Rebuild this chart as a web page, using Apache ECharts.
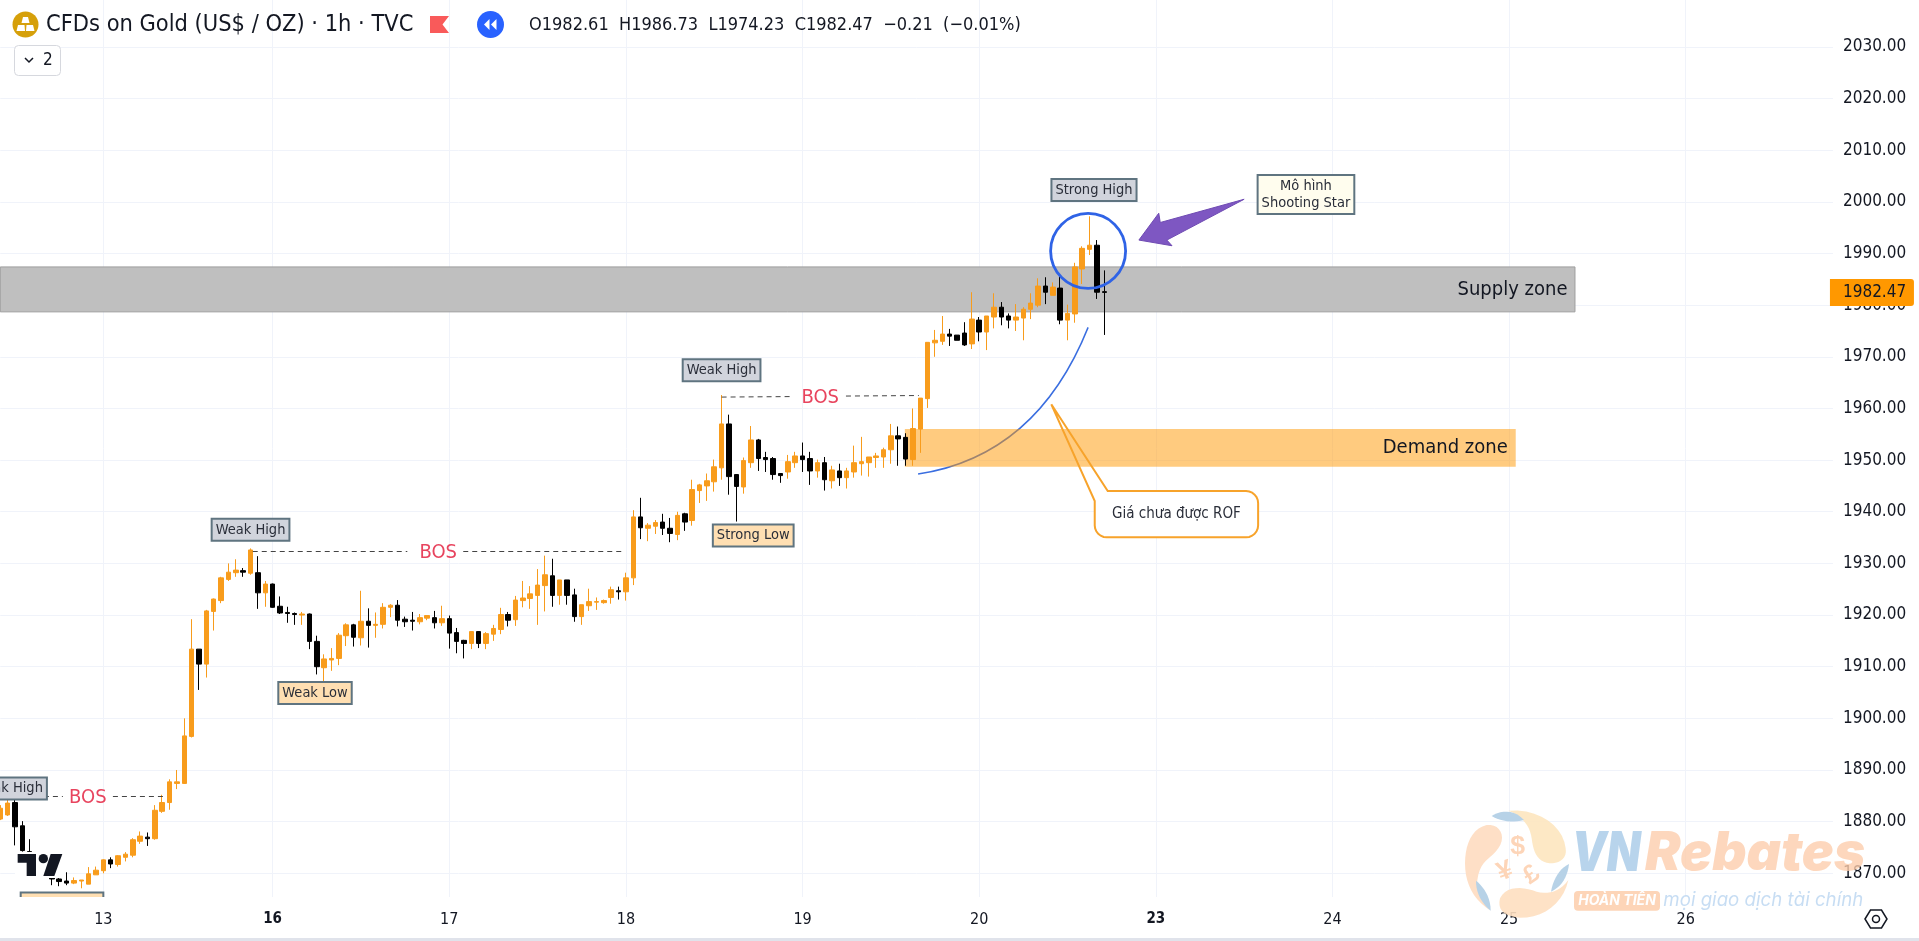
<!DOCTYPE html>
<html><head><meta charset="utf-8">
<style>html,body{margin:0;padding:0;background:#fff;overflow:hidden}#c{width:1919px;height:941px}</style>
<script src="https://cdn.jsdelivr.net/npm/echarts@6/dist/echarts.min.js"></script>
</head><body><div id="c"></div>
<script>
const FONT = '"DejaVu Sans Condensed","DejaVu Sans",sans-serif';
const opens = [1880.5,1881.3,1883.7,1879.2,1874.2,1871.5,1870.5,1869.2,1868.9,1868.5,1868.1,1868.5,1867.9,1869.7,1870.5,1872.6,1871.7,1873.1,1873.5,1876.2,1877,1876.7,1882,1883.7,1887.4,1887.4,1896.5,1913.4,1910.5,1920.7,1922.8,1926.9,1928.2,1928.6,1928.1,1928.2,1924.3,1926,1921.7,1920.5,1920.3,1920,1920.2,1914.9,1909.8,1911.3,1911.6,1916,1918.1,1915.6,1918.8,1918,1918.2,1921.5,1921.9,
1919.2,1919,1918.7,1919.4,1919.5,1918.5,1919.3,1916.6,1915.1,1914.5,1916.8,1914.5,1916.3,1917.2,1920.1,1919.1,1922.8,1923.2,1923.8,1925.7,1927.6,1923.8,1926.8,1923.9,1919.7,1921.8,1922.5,1922.4,1923.4,1924.7,1924.5,1927.2,1939,1936.8,1937.2,1938,1936.8,1935.6,1939.6,1938.3,1944.1,1945,1945.8,1948.5,1957,1947.2,
1944.8,1949.5,1953.9,1950.5,1950.3,1947.4,1947.7,1949.5,1950.8,1950.3,1947.9,1949.5,1946,1947.9,1946.6,1947.7,1949.3,1949.5,1950.5,1950.6,1952,1954.7,1954.4,1950.1,1956,1961.9,1972.7,1973,1974.4,1974.2,1974.6,1972.5,1977.1,1974.8,1977.7,1979.6,1977.9,1977.1,1977.5,1979.2,1980,1983.7,1981.9,1983.3,1977.1,1978.3,1987,1990.8,1991.6,1982.61];
const closes = [1882.6,1883.6,1879,1874.4,1871.5,1870.5,1869.5,1868.9,1868.4,1868.1,1868.6,1868.7,1869.9,1870.6,1872.6,1871.8,1873.4,1873.7,1876.5,1877.2,1876.7,1882.2,1883.7,1887.7,1887.7,1896.6,1913.4,1910.5,1920.8,1923.1,1927.2,1928.3,1928.7,1928.3,1932.6,1924.3,1926,1921.5,1920.4,1920.3,1920.1,1920.2,1914.9,1910,1911.5,1911.6,1916.1,1918.1,1915.7,1918.8,1918,1918.2,1921.5,1921.9,1919,
1918.7,1918.8,1919.5,1919.9,1918.5,1919.3,1916.5,1914.9,1914.5,1916.8,1914.5,1916.4,1917.4,1920.1,1919,1922.9,1923.3,1924.1,1925.8,1927.8,1923.8,1926.8,1923.8,1919.7,1922,1922.6,1922.6,1922.8,1924.9,1924.5,1927.2,1939,1936.9,1937.4,1937.9,1936.8,1935.8,1939.3,1938,1944.3,1945.2,1946,1948.7,1957,1946.8,1944.9,
1949.9,1953.9,1950.3,1950.1,1947.2,1947,1949.7,1950.8,1950.1,1947.9,1949.5,1946.2,1948.1,1946.6,1947.9,1949.5,1949.7,1950.6,1950.8,1952,1954.7,1954.1,1950.2,1956.1,1962,1972.8,1973.2,1974.4,1974,1973.2,1972.3,1977.3,1974.8,1977.9,1979.6,1977.7,1977.1,1977.7,1979.2,1980.4,1983.7,1982.5,1983.5,1977.1,1978.4,1987.4,1991,1991.6,1982.5,1982.47];
const lows = [1880.3,1881.1,1875.4,1874.2,1870.8,1869.5,1869.5,1867.7,1867.5,1867.7,1867.9,1867.1,1867.9,1869.7,1870,1871,1871.3,1872.3,1873.1,1875.7,1875.3,1876.5,1881.7,1882.3,1886.3,1887.3,1896.3,1905.5,1907.9,1917,1922.3,1926.6,1927.4,1927.4,1927.8,1921.2,1921.6,1921.4,1920.2,1918.5,1918.1,1918.1,1913.4,1908.5,1907.1,1909.2,1910.3,1914,1913.9,1914.1,1913.7,1915.6,1917.4,1919.6,1917.8,
1917.7,1917,1918.2,1919,1917.4,1917.9,1913.5,1912.6,1911.6,1913.4,1913.6,1913.4,1915,1916.3,1917.8,1917.9,1921.5,1921.2,1918.1,1920.7,1921.6,1922,1922,1918.7,1918.1,1920.8,1921,1922.2,1922.2,1923,1922.8,1925.8,1934.7,1934.3,1935.7,1935.5,1934.1,1934.5,1936.3,1937.3,1941.7,1942.1,1943.9,1946.2,1943.3,1938.1,
1943.5,1948.5,1947.9,1947.7,1946.2,1945.6,1946.4,1948.5,1947.7,1945.2,1946.6,1944.1,1944.5,1945,1944.5,1946.6,1947,1946.8,1948.5,1948.5,1949.3,1948.9,1948.9,1948.9,1951.4,1960.1,1970,1972.3,1972.1,1973.2,1972.1,1971.5,1973,1971.3,1975.5,1976.1,1975.5,1975,1973.2,1977.3,1979.6,1980.2,1981.9,1976.3,1973.2,1976.6,1984.1,1989.7,1981.2,1974.23];
const highs = [1883.2,1884.5,1885.2,1880.1,1876.6,1872,1871,1869.6,1870.6,1870.2,1869.2,1868.7,1871.2,1871.3,1872.7,1873.1,1873.5,1874.1,1876.8,1878.1,1877.9,1883.2,1885.2,1888.2,1890,1900,1919.2,1913.4,1921,1923.2,1927.4,1930,1930.8,1929.1,1932.9,1931.4,1926.6,1926.1,1923.6,1921.6,1920.5,1920.6,1920.3,1916,1912.4,1913.6,1916.5,1918.4,1918.3,1924.7,1921.3,1920.5,1922.3,1922.1,1922.9,
1919.7,1920.6,1920.2,1919.9,1920.8,1921.8,1919.9,1917.5,1915.2,1916.8,1916.9,1916.7,1918.1,1921.4,1920.6,1923.7,1926.6,1925.6,1928.9,1931.5,1930.9,1926.8,1926.8,1925.1,1922,1925.1,1923.4,1923,1925.5,1925.5,1928.2,1940.3,1942.7,1937.8,1938.4,1939.6,1938.8,1940,1939.8,1946.2,1945.4,1947.4,1950.1,1962.6,1958.8,1947.3,
1950.5,1956.6,1954.1,1951.6,1950.6,1947.4,1951,1951.6,1953.4,1951.6,1950.1,1950.6,1948.9,1949.3,1948.5,1952.8,1954.5,1950.6,1951.4,1952.4,1957,1956.5,1955.2,1960,1962,1972.8,1975.2,1977.9,1975.4,1974.2,1976.7,1982.5,1977.7,1977.9,1982.3,1980.6,1978.4,1980.2,1979.6,1982.3,1985.2,1985.4,1984.4,1986,1980.1,1988.2,1991.4,1997.2,1992.6,1986.73];
const dayTickIndex = [14,37,61,85,109,133,157,181,205,229];
const dayTickLabel = ['13','16','17','18','19','20','23','24','25','26'];
const boldDays = ['16','23'];
const priceTicks = [1870,1880,1890,1900,1910,1920,1930,1940,1950,1960,1970,1980,1990,2000,2010,2020,2030];
const slotCount = 250;
const lastPrice = 1982.47;
const bosText = [[11.9,1884.6],[59.5,1932],[111.4,1962.1]];
const bosSegments = [
  [[4.7,1885],[8.5,1885]],[[15.3,1885],[22.1,1885]],
  [[34.3,1932.4],[55.3,1932.4]],[[62.9,1932.4],[84.9,1932.4]],
  [[98,1962.2],[107.7,1962.3]],[[114.9,1962.4],[124.8,1962.5]]];
const notesGrey = [['Weak High',1.05,1886.4],['Weak High',34,1936.5],['Weak High',98,1967.4],['Strong High',148.6,2002.3]];
const notesPeach = [['Weak Low',42.76,1904.9],['Strong Low',102.3,1935.4]];
const noteStar = ['Mô hình\nShooting Star',177.4,2001.4];
const supplyZone = {from:0,to:213.95,hi:1987.4,lo:1978.7,name:'Supply zone'};
const demandZone = {from:122.9,to:205.9,hi:1956,lo:1948.7,name:'Demand zone'};
const circleCentre = [147.8,1990.5];
const curvePts = [[124.7,1947.3],[140.8,1950.8],[147.8,1975.7]];
const arrowPts = [[154.7,1992.6],[157.4,1997.8],[157.6,1996],[169,2000.5],[158.5,1992.6],[159.2,1991.5]];
const calloutTip = [142.8,1960.8];
const calloutBox = [[148.7,1944],[170.9,1935.05]];
const calloutText = 'Giá chưa được ROF';
const clippedBox = [[2.77,1866.3],[14,1865.41]];

const hours = Array.from({length:slotCount},(_,i)=>{const k=dayTickIndex.indexOf(i);return k<0?'':dayTickLabel[k];});
const candleData = opens.map((o,i)=>[o,closes[i],lows[i],highs[i]]);

function blob(nums){
  const out=[[nums[0],nums[1]]];
  for(let i=2;i+5<nums.length;i+=6){
    const p0x=nums[i-2],p0y=nums[i-1];
    for(let k=1;k<=10;k++){const t=k/10,u=1-t;
      out.push([u*u*u*p0x+3*u*u*t*nums[i]+3*u*t*t*nums[i+2]+t*t*t*nums[i+4],
                u*u*u*p0y+3*u*u*t*nums[i+1]+3*u*t*t*nums[i+3]+t*t*t*nums[i+5]]);}
  }
  return out;
}
function markLabel(bg,border){
  return {show:true,position:'inside',color:'#2a2e39',fontFamily:FONT,fontSize:14.5,lineHeight:17,align:'center',
    backgroundColor:bg,borderColor:border,borderWidth:2,padding:[2,3,1,3]};
}
const pts = [];
notesGrey.forEach(n=>pts.push({name:n[0],coord:[n[1],n[2]],label:Object.assign(markLabel('#d1d4dc','#5f7480'),{formatter:n[0]})}));
notesPeach.forEach(n=>pts.push({name:n[0],coord:[n[1],n[2]],label:Object.assign(markLabel('#ffdfb2','#5f7480'),{formatter:n[0]})}));
pts.push({name:'star',coord:[noteStar[1],noteStar[2]],label:Object.assign(markLabel('#fffdee','#5f7480'),{formatter:noteStar[0]})});
bosText.forEach(b=>pts.push({name:'BOS',coord:b,label:{show:true,position:'inside',formatter:'BOS',color:'#e8445e',fontFamily:FONT,fontSize:20}}));

const zone = (z,color,border)=>[{name:z.name,coord:[z.from,z.hi],itemStyle:{color,borderColor:border,borderWidth:border==='none'?0:1}},{coord:[z.to,z.lo]}];

const G = (children)=>({type:'group',children});
const chart = echarts.init(document.getElementById('c'),null,{renderer:'canvas'});
const option = {
  animation:false,backgroundColor:'#fff',
  grid:{left:0.3,top:0,width:7.36*(slotCount-1),height:897,containLabel:false},
  xAxis:[{type:'category',data:hours,boundaryGap:false,axisLine:{show:false},
      axisTick:{show:false},
      splitLine:{show:true,interval:(i)=>dayTickIndex.includes(i),lineStyle:{color:'#f0f3fa',width:1}},
      axisLabel:{show:true,interval:(i)=>dayTickIndex.includes(i),margin:15,color:'#131722',fontFamily:FONT,fontSize:16,
        formatter:(v)=>boldDays.includes(v)?'{b|'+v+'}':v,rich:{b:{fontWeight:'bold',fontFamily:FONT,fontSize:15,color:'#131722'}}}},
    {type:'value',show:false,min:0,max:slotCount-1,splitLine:{show:false}}],
  yAxis:{type:'value',position:'right',min:1865.41,max:2039.08,scale:true,axisLine:{show:false},
      axisTick:{show:false,customValues:priceTicks},
      splitLine:{show:true,lineStyle:{color:'#f0f3fa',width:1}},
      axisLabel:{customValues:priceTicks,margin:10,color:'#131722',fontFamily:FONT,fontSize:17,formatter:(v)=>v.toFixed(2)}},
  series:[
    {type:'custom',name:'curve',coordinateSystem:'cartesian2d',xAxisIndex:1,yAxisIndex:0,z:0,data:[[0,1900]],silent:true,
      renderItem:(p,api)=>{const a=api.coord(curvePts[0]),c=api.coord(curvePts[1]),b=api.coord(curvePts[2]);
        return {type:'bezierCurve',shape:{x1:a[0],y1:a[1],x2:b[0],y2:b[1],cpx1:c[0],cpy1:c[1]},style:{fill:'none',stroke:'#3a6ee0',lineWidth:1.5}};},
      markArea:{silent:true,label:{show:true,position:'insideRight',distance:8,color:'#131722',fontFamily:FONT,fontSize:20},
        data:[zone(supplyZone,'#bfbfbf','#9e9e9e'),zone(demandZone,'rgba(255,152,0,0.5)','none')]}},
    {type:'candlestick',name:'Gold',data:candleData,barWidth:5,z:2,silent:true,
      itemStyle:{color:'#f89c1c',color0:'#000',borderColor:'#f89c1c',borderColor0:'#000',borderWidth:1}},
    {type:'custom',name:'notes',coordinateSystem:'cartesian2d',xAxisIndex:1,yAxisIndex:0,z:6,data:[[0,1900]],silent:true,
      renderItem:(p,api)=>{
        const cs=p.coordSys,cc=api.coord(circleCentre),arrow=arrowPts.map(q=>api.coord(q));
        const tip=api.coord(calloutTip),tl=api.coord(calloutBox[0]),br=api.coord(calloutBox[1]);
        const r=12,x0=tl[0],y0=tl[1],x1=br[0],y1=br[1];
        const outline=[tip,[x0+13,y0],[x1-r,y0]];
        const arc=(cx,cy,a0)=>{for(let k=0;k<=6;k++){const a=a0+k*Math.PI/12;outline.push([cx+r*Math.cos(a),cy+r*Math.sin(a)]);}};
        arc(x1-r,y0+r,-Math.PI/2);arc(x1-r,y1-r,0);arc(x0+r,y1-r,Math.PI/2);outline.push([x0,y0+10]);
        const cb0=api.coord(clippedBox[0]),cb1=api.coord(clippedBox[1]);
        const py=api.coord([0,lastPrice])[1];
        const tagX=cs.x+cs.width-3;
        return G([
          {type:'polygon',shape:{points:[[cb0[0],cb1[1]],[cb0[0],cb0[1]],[cb1[0],cb0[1]],[cb1[0],cb1[1]]]},style:{fill:'#ffdfb2'}},
          {type:'polyline',shape:{points:[[cb0[0],cb1[1]],[cb0[0],cb0[1]],[cb1[0],cb0[1]],[cb1[0],cb1[1]]]},style:{fill:'none',stroke:'#5f7480',lineWidth:2}},
          {type:'circle',shape:{cx:cc[0],cy:cc[1],r:37.5},style:{fill:'none',stroke:'#2f63e6',lineWidth:2.8}},
          {type:'polygon',shape:{points:arrow},style:{fill:'#7e57c2',stroke:'#6f4bb3',lineWidth:1}},
          {type:'rect',shape:{x:x0,y:y0,width:x1-x0,height:y1-y0,r:r},style:{fill:'#fff'}},
          {type:'polygon',shape:{points:outline},style:{fill:'none',stroke:'#f7a32b',lineWidth:2}},
          {type:'text',x:(x0+x1)/2,y:(y0+y1)/2,style:{text:calloutText,fill:'#2a2e39',font:'15px '+FONT,align:'center',verticalAlign:'middle'}},
          {type:'rect',shape:{x:tagX,y:py-13.5,width:84,height:27,r:[0,3,3,0]},style:{fill:'#ff9800'}},
          {type:'text',x:tagX+13,y:py,style:{text:lastPrice.toFixed(2),fill:'#131722',font:'17px '+FONT,align:'left',verticalAlign:'middle'}}
        ]);
      },
      markLine:{silent:true,symbol:['none','none'],label:{show:false},lineStyle:{color:'#444',type:[5,4],width:1},
        data:bosSegments.map(s=>[{coord:s[0]},{coord:s[1]}])},
      markPoint:{silent:true,symbol:'rect',symbolSize:1,itemStyle:{color:'rgba(0,0,0,0)'},data:pts}}
  ],
  graphic:{elements:[
    {type:'rect',z:50,shape:{x:0,y:938,width:1919,height:3},style:{fill:'#e0e3eb'}},
    {type:'circle',z:50,shape:{cx:25.5,cy:24.5,r:13},style:{fill:'#d6a00a'}},
    {type:'polygon',z:51,shape:{points:[[23,17],[28,17],[29.5,23],[21.5,23]]},style:{fill:'#fff'}},
    {type:'polygon',z:51,shape:{points:[[18,25],[24.5,25],[25,31],[16.5,31]]},style:{fill:'#fff'}},
    {type:'polygon',z:51,shape:{points:[[26.5,25],[33,25],[34.5,31],[26,31]]},style:{fill:'#fff'}},
    {type:'text',z:50,x:46,y:25,style:{text:'CFDs on Gold (US$ / OZ) · 1h · TVC',fill:'#131722',font:'23.4px '+FONT,verticalAlign:'middle'}},
    {type:'polygon',z:50,shape:{points:[[430,16],[449,16],[442.5,24.5],[449,33],[430,33]]},style:{fill:'#f95a5a'}},
    {type:'circle',z:50,shape:{cx:490.5,cy:24.5,r:13.5},style:{fill:'#2962ff'}},
    {type:'polygon',z:51,shape:{points:[[489.5,19],[489.5,30],[484,24.5]]},style:{fill:'#fff'}},
    {type:'polygon',z:51,shape:{points:[[496.5,19],[496.5,30],[491,24.5]]},style:{fill:'#fff'}},
    {type:'text',z:50,x:529,y:25,style:{text:'O1982.61  H1986.73  L1974.23  C1982.47  −0.21  (−0.01%)',fill:'#131722',font:'18px '+FONT,verticalAlign:'middle'}},
    {type:'rect',z:50,shape:{x:14.5,y:45.5,width:46,height:30,r:4},style:{fill:'#fff',stroke:'#d6d8de',lineWidth:1}},
    {type:'polyline',z:51,shape:{points:[[25,58],[29,62],[33,58]]},style:{fill:'none',stroke:'#131722',lineWidth:1.5}},
    {type:'text',z:51,x:43,y:61,style:{text:'2',fill:'#131722',font:'17px '+FONT,verticalAlign:'middle'}},
    {type:'polygon',z:50,shape:{points:[[1865,919],[1870.5,910],[1881.5,910],[1887,919],[1881.5,928],[1870.5,928]]},style:{fill:'#fff',stroke:'#131722',lineWidth:1.5}},
    {type:'circle',z:50,shape:{cx:1876,cy:919,r:3.5},style:{fill:'#fff',stroke:'#131722',lineWidth:1.5}},
    {type:'rect',z:39,shape:{x:15,y:852,width:50,height:26},style:{fill:'#fff'}},
    {type:'group',x:0,y:500,scaleX:1/3,scaleY:1/3,children:[
      {type:'polygon',z:40,shape:{points:[[53,1062],[108,1062],[108,1128],[80,1128],[80,1088],[53,1088]]},style:{fill:'#131722'}},
      {type:'circle',z:40,shape:{cx:130,cy:1076,r:14},style:{fill:'#131722'}},
      {type:'polygon',z:40,shape:{points:[[152,1062],[187,1062],[163,1128],[130,1128]]},style:{fill:'#131722'}}]},
    {type:'group',x:1400,y:780,scaleX:1/3,scaleY:1/3,children:[
      {type:'polygon',z:60,shape:{points:blob([260,135,300,130,320,170,295,205,270,240,240,240,232,300,228,340,250,370,272,392,220,360,195,310,195,250,195,195,215,145,260,135])},style:{fill:'#fedcc0',opacity:0.9}},
      {type:'polygon',z:60,shape:{points:blob([325,92,420,85,490,140,497,205,503,240,470,255,440,248,410,240,400,215,395,175,390,140,370,110,325,92])},style:{fill:'#fde6bf',opacity:0.9}},
      {type:'polygon',z:60,shape:{points:blob([300,355,320,315,370,320,410,335,445,345,480,335,505,300,490,370,430,415,360,413,320,410,290,395,300,355])},style:{fill:'#fedfc0',opacity:0.9}},
      {type:'polygon',z:61,shape:{points:blob([275,108,300,92,340,85,372,120,340,128,300,125,275,108])},style:{fill:'#b7d2e7'}},
      {type:'polygon',z:61,shape:{points:blob([228,302,250,320,272,350,272,392,245,370,228,340,228,302])},style:{fill:'#b7d2e7'}},
      {type:'polygon',z:61,shape:{points:blob([507,252,480,265,460,295,453,335,485,320,503,290,507,252])},style:{fill:'#b7d2e7'}},
      {type:'text',z:61,x:353,y:200,style:{text:'$',fill:'#fdd5b8',font:'bold 80px "Liberation Sans"',align:'center',verticalAlign:'middle'}},
      {type:'text',z:61,x:315,y:275,rotation:0.35,style:{text:'¥',fill:'#fdd5b8',font:'bold 80px "Liberation Sans"',align:'center',verticalAlign:'middle'}},
      {type:'text',z:61,x:395,y:285,rotation:0.6,style:{text:'£',fill:'#fdd5b8',font:'bold 76px "Liberation Sans"',align:'center',verticalAlign:'middle'}},
      {type:'text',z:60,x:515,y:222,scaleX:0.8,style:{text:'VN',fill:'rgba(160,198,230,0.75)',font:'italic 900 165px Inter',verticalAlign:'middle'}},
      {type:'text',z:60,x:735,y:222,style:{text:'Rebates',fill:'rgba(253,205,172,0.8)',font:'italic 900 160px Inter',verticalAlign:'middle'}},
      {type:'rect',z:60,shape:{x:522,y:333,width:258,height:59,r:12},style:{fill:'#fdd5b8'}},
      {type:'text',z:61,x:651,y:363,style:{text:'HOÀN TIỀN',fill:'#fff',font:'italic bold 42px Inter',align:'center',verticalAlign:'middle'}},
      {type:'text',z:60,x:790,y:360,style:{text:'mọi giao dịch tài chính',fill:'rgba(185,213,240,0.8)',font:'italic 56px Inter',verticalAlign:'middle'}}]}
  ]}
};
chart.setOption(option);
</script></body></html>
